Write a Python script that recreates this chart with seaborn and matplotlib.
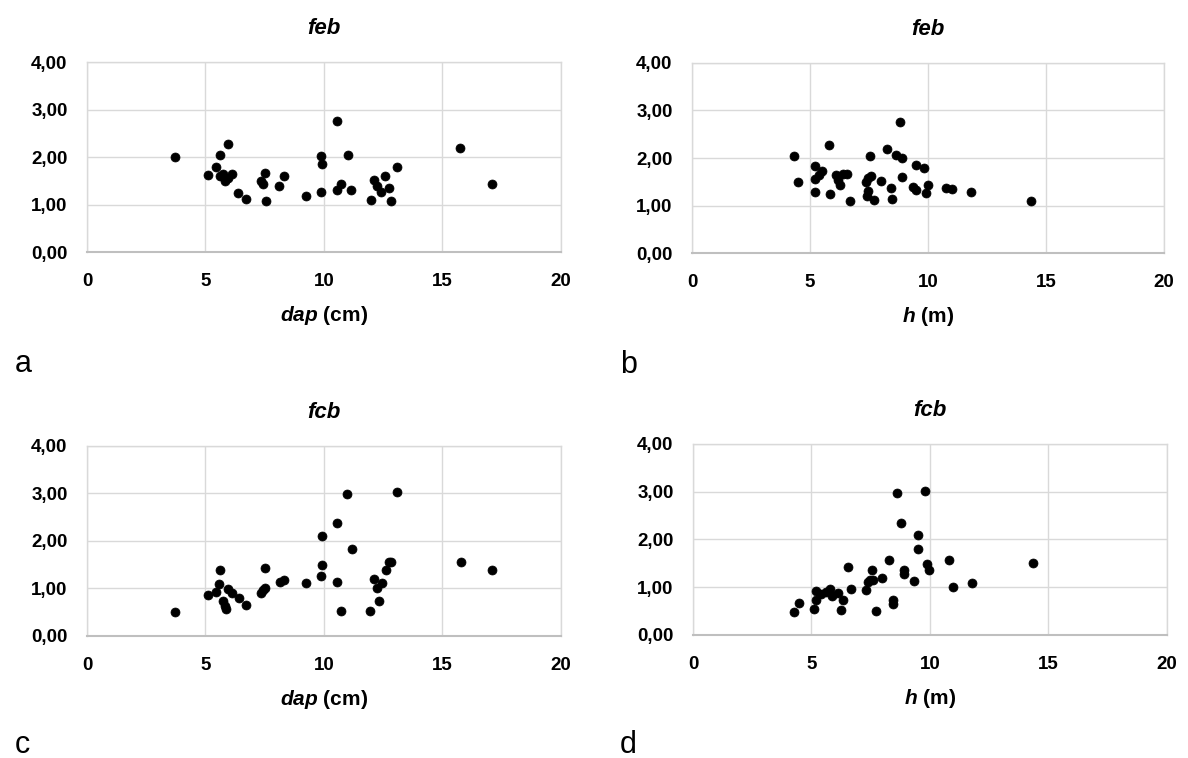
import numpy as np
import pandas as pd
import matplotlib
matplotlib.use('Agg')
import matplotlib.pyplot as plt
from matplotlib.ticker import FuncFormatter
import seaborn as sns

# panel a: feb vs dap
dap_a = [3.73, 5.11, 5.46, 5.60, 5.95, 5.60, 5.74, 5.81, 5.95, 6.12, 6.38, 6.70, 7.36, 7.43, 7.53,
         7.57, 8.11, 8.30, 9.26, 9.87, 9.92, 9.88, 10.53, 10.53, 10.70, 11.00, 11.16, 11.98, 12.12,
         12.22, 12.40, 12.57, 12.75, 12.81, 13.09, 15.76, 17.07]
feb_a = [2.01, 1.63, 1.80, 2.04, 2.27, 1.59, 1.65, 1.49, 1.56, 1.64, 1.24, 1.12, 1.50, 1.44, 1.66,
         1.08, 1.40, 1.61, 1.17, 2.03, 1.85, 1.26, 2.76, 1.30, 1.44, 2.05, 1.31, 1.10, 1.52,
         1.38, 1.26, 1.59, 1.35, 1.08, 1.79, 2.18, 1.43]

# panel b: feb vs h
h_b = [4.31, 4.49, 5.20, 5.20, 5.20, 5.38, 5.52, 5.81, 5.86, 6.12, 6.19, 6.26, 6.40, 6.58, 6.68,
       7.36, 7.46, 7.60, 7.43, 7.46, 7.53, 7.71, 8.00, 8.28, 8.45, 8.47, 8.63, 8.80, 8.91, 8.91,
       9.36, 9.51, 9.51, 9.83, 9.93, 10.00, 10.78, 11.02, 11.81, 14.35]
feb_b = [2.04, 1.49, 1.84, 1.56, 1.28, 1.65, 1.73, 2.28, 1.25, 1.65, 1.54, 1.43, 1.66, 1.66, 1.09,
         1.49, 1.58, 1.63, 1.19, 1.30, 2.04, 1.12, 1.51, 2.18, 1.37, 1.13, 2.06, 2.75, 2.00, 1.60,
         1.40, 1.33, 1.85, 1.78, 1.26, 1.43, 1.37, 1.35, 1.28, 1.09]

# panel c: fcb vs dap
dap_c = [3.73, 5.11, 5.46, 5.57, 5.60, 5.74, 5.81, 5.88, 5.95, 6.12, 6.42, 6.70, 7.36, 7.43, 7.53,
         7.50, 8.14, 8.30, 9.26, 9.92, 9.92, 9.89, 10.53, 10.53, 10.70, 10.99, 11.19, 11.96, 12.10,
         12.22, 12.33, 12.43, 12.60, 12.75, 12.81, 13.09, 15.78, 17.07]
fcb_c = [0.50, 0.86, 0.93, 1.09, 1.38, 0.74, 0.64, 0.56, 0.98, 0.90, 0.79, 0.65, 0.90, 0.97, 1.00,
         1.44, 1.14, 1.18, 1.11, 2.11, 1.49, 1.27, 2.37, 1.14, 0.53, 2.98, 1.82, 0.53, 1.20,
         1.00, 0.74, 1.11, 1.38, 1.55, 1.56, 3.02, 1.56, 1.38]

# panel d: fcb vs h
h_d = [4.27, 4.46, 5.11, 5.18, 5.21, 5.42, 5.63, 5.80, 5.85, 6.13, 6.31, 6.24, 6.55, 6.65, 7.32,
       7.37, 7.46, 7.58, 7.54, 7.72, 7.99, 8.27, 8.45, 8.45, 8.59, 8.76, 8.90, 8.90, 9.34, 9.48,
       9.48, 9.79, 9.86, 9.97, 10.79, 10.96, 11.79, 14.34]
fcb_d = [0.48, 0.66, 0.55, 0.74, 0.93, 0.86, 0.90, 0.97, 0.81, 0.88, 0.74, 0.52, 1.42, 0.97, 0.94,
         1.11, 1.15, 1.16, 1.37, 0.51, 1.19, 1.56, 0.74, 0.64, 2.98, 2.35, 1.37, 1.27, 1.14, 2.09,
         1.81, 3.02, 1.49, 1.37, 1.56, 1.00, 1.09, 1.51]

# title, x, y, x variable, unit, panel letter, axes rect, letter position (px)
panels = [
    ('feb', dap_a, feb_a, 'dap', ' (cm)', 'a', [0.0732, 0.6675, 0.399, 0.2507], (15, 372)),
    ('feb', h_b, feb_b, 'h', ' (m)', 'b', [0.5825, 0.6662, 0.3973, 0.2507], (620, 373)),
    ('fcb', dap_c, fcb_c, 'dap', ' (cm)', 'c', [0.0732, 0.161, 0.399, 0.2507], (15, 753)),
    ('fcb', h_d, fcb_d, 'h', ' (m)', 'd', [0.5833, 0.1623, 0.3990, 0.2520], (620, 753)),
]

sns.set_style('whitegrid')
plt.rcParams['font.family'] = ['Liberation Sans', 'DejaVu Sans']
plt.rcParams['text.color'] = 'black'
plt.rcParams['axes.labelcolor'] = 'black'
plt.rcParams['xtick.color'] = 'black'
plt.rcParams['ytick.color'] = 'black'
plt.rcParams['mathtext.fontset'] = 'custom'
plt.rcParams['mathtext.bfit'] = 'Liberation Sans:italic:bold'
plt.rcParams['mathtext.it'] = 'Liberation Sans:italic'
plt.rcParams['mathtext.bf'] = 'Liberation Sans:bold'
plt.rcParams['mathtext.rm'] = 'Liberation Sans'

W, H = 1188, 758
fig = plt.figure(figsize=(W / 100, H / 100), dpi=100)
fig.patch.set_facecolor('white')

comma = FuncFormatter(lambda v, p: ('%.2f' % v).replace('.', ','))

for title, xs, ys, xvar, unit, letter, rect, lpos in panels:
    ax = fig.add_axes(rect)
    df = pd.DataFrame({'x': xs, 'y': ys})
    sns.scatterplot(data=df, x='x', y='y', ax=ax, color='black', s=42,
                    edgecolor='black', linewidth=0.5, zorder=3)
    ax.set_xlim(0, 20)
    ax.set_ylim(0, 4)
    ax.set_xticks([0, 5, 10, 15, 20])
    ax.set_yticks([0, 1, 2, 3, 4])
    ax.yaxis.set_major_formatter(comma)
    ax.grid(True, color='#d9d9d9', linewidth=1.0)
    for side in ['top', 'right', 'left']:
        ax.spines[side].set_color('#d9d9d9')
        ax.spines[side].set_linewidth(1.0)
    ax.spines['bottom'].set_color('#bfbfbf')
    ax.spines['bottom'].set_linewidth(1.5)
    ax.tick_params(axis='both', length=0, labelsize=13.5)
    ax.tick_params(axis='x', pad=15)
    ax.tick_params(axis='y', pad=14)
    for lab in ax.get_xticklabels() + ax.get_yticklabels():
        lab.set_fontweight('bold')
    ax.set_title(title, fontsize=16, fontweight='bold', fontstyle='italic', pad=20)
    ax.set_xlabel(r'$\mathbfit{' + xvar + '}$' + unit, fontsize=15, fontweight='bold', labelpad=10)
    ax.set_ylabel('')
    fig.text(lpos[0] / W, 1 - lpos[1] / H, letter, fontsize=22, ha='left', va='baseline')

fig.savefig('out.png', dpi=100, facecolor='white')
